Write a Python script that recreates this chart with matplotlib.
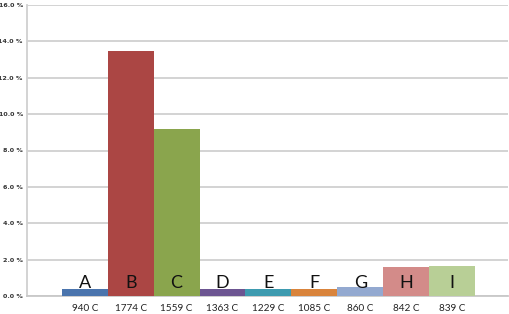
import matplotlib
matplotlib.use("Agg")
import matplotlib.pyplot as plt

letters = ["A", "B", "C", "D", "E", "F", "G", "H", "I"]
temps = ["940 C", "1774 C", "1559 C", "1363 C", "1229 C", "1085 C", "860 C", "842 C", "839 C"]
values = [0.4, 13.45, 9.18, 0.4, 0.4, 0.4, 0.48, 1.62, 1.64]
colors = ["#4a74ad", "#ab4644", "#8aa54d", "#6c5591", "#3e9bb0", "#d9843c", "#93a9d0", "#d38b89", "#b8cf96"]
yticks = [0, 2, 4, 6, 8, 10, 12, 14, 16]

fig = plt.figure(figsize=(5.1, 3.14), dpi=100)
W, H = 510, 314
ax = fig.add_axes([27 / W, (H - 296) / H, (508 - 27) / W, (296 - 5) / H])
x = list(range(len(values)))
ax.bar(x, values, width=1.0, color=colors, zorder=3)
for xi, v, lab in zip(x, values, letters):
    ax.text(xi, 0.3, lab, ha="center", va="bottom", fontsize=13, color="#111111",
            family="Lato", zorder=4)
ax.set_xlim(-1.26, 9.22)
ax.set_ylim(0, 16)
ax.set_yticks(yticks)
ax.set_yticklabels([f"{t:.1f} %" for t in yticks], fontsize=4.6, fontweight="bold",
                   color="#333333", family="DejaVu Sans")
ax.set_xticks(x)
ax.set_xticklabels(temps, fontsize=7.2, color="#222222", family="Lato")
ax.tick_params(axis="both", length=0)
ax.tick_params(axis="x", pad=6)
ax.tick_params(axis="y", pad=3)
ax.yaxis.grid(True, color="#d0d0d0", linewidth=1.3, zorder=0)
for s in ["top", "right"]:
    ax.spines[s].set_visible(False)
ax.spines["left"].set_color("#d0d0d0")
ax.spines["left"].set_linewidth(1.3)
ax.spines["bottom"].set_color("#c8c8c8")
ax.spines["bottom"].set_linewidth(1.3)
fig.savefig("out.png", dpi=100)
